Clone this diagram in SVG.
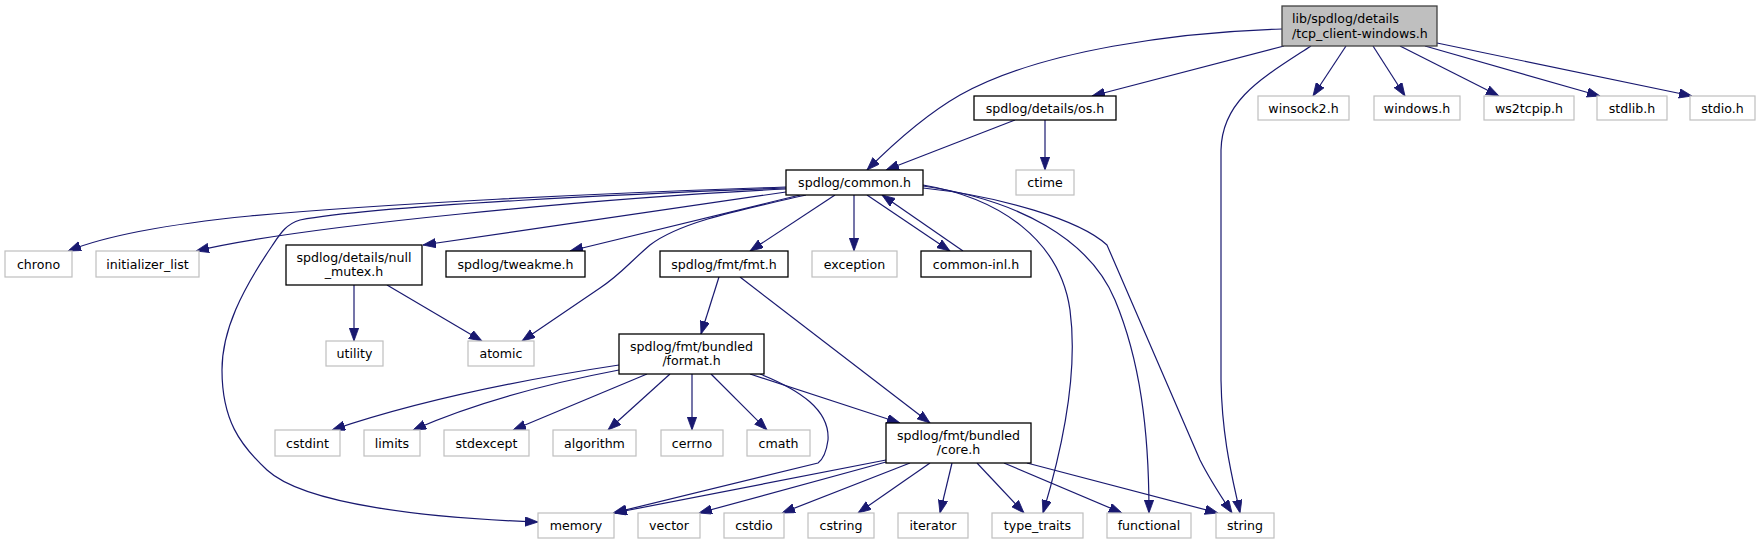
<svg xmlns="http://www.w3.org/2000/svg" width="1761" height="544" viewBox="0 0 1761 544">
<style>
.n rect{fill:#fff;stroke:#000;stroke-width:1.3}
.x rect{fill:#fff;stroke:#bfbfbf;stroke-width:1.2}
.r rect{fill:#bfbfbf;stroke:#404040;stroke-width:1.3}
text{font-family:"DejaVu Sans","Liberation Sans",sans-serif;font-size:12.6px;fill:#000;text-anchor:middle}
.r text{text-anchor:start}
#edges path{fill:none;stroke:#191970;stroke-width:1.2;marker-end:url(#ah)}
</style>
<defs>
<marker id="ah" markerUnits="userSpaceOnUse" markerWidth="14" markerHeight="10" refX="13" refY="4.7" orient="auto">
<path d="M0,0 L13,4.7 L0,9.4 z" fill="#191970" stroke="#191970" stroke-width="0.8"/>
</marker>
</defs>
<rect width="1761" height="544" fill="#fff"/>
<g id="edges">
<path d="M1282,29 C1180,32 1040,50 960,95 C925,115 895,142 867,170"/>
<path d="M1284,46 L1092,96"/>
<path d="M1311,46 C1262,78 1222,100 1221,150 L1221,380 C1222,440 1233,480 1240,513"/>
<path d="M1346,46 L1313,96"/>
<path d="M1373,46 L1405,96"/>
<path d="M1400,46 L1499,96"/>
<path d="M1425,46 L1600,96"/>
<path d="M1437,43 L1692,96"/>
<path d="M1015,120 L886,170"/>
<path d="M1045,120 L1045,170"/>
<path d="M786,187 C600,193 380,204 250,216 C180,223 110,234 68,251"/>
<path d="M786,189 C600,198 300,226 196,251"/>
<path d="M786,188 C650,193 380,205 300,220 C286,224 280,234 272,246 C242,290 222,330 222,370 C222,420 240,445 267,470 C305,505 430,518 538,522"/>
<path d="M786,192 L423,245"/>
<path d="M800,195 L570,251"/>
<path d="M806,195 C740,210 680,222 650,245 C630,262 620,275 600,288 L522,341"/>
<path d="M835,195 L750,251"/>
<path d="M854,195 L854,251"/>
<path d="M867,195 L950,251"/>
<path d="M963,251 L882,195"/>
<path d="M923,185 C1000,198 1060,240 1070,310 C1078,370 1065,440 1043,513"/>
<path d="M923,186 C1020,200 1090,240 1115,300 C1140,360 1149,430 1149,513"/>
<path d="M923,188 C1000,196 1080,220 1107,245 L1200,460 C1210,480 1220,495 1232,513"/>
<path d="M719,277 L701,334"/>
<path d="M740,277 L930,423"/>
<path d="M354,285 L354,341"/>
<path d="M387,285 L482,341"/>
<path d="M619,365 C520,380 420,400 332,430"/>
<path d="M619,370 C540,385 470,405 413,430"/>
<path d="M647,374 L513,430"/>
<path d="M670,374 L608,430"/>
<path d="M692,374 L692,430"/>
<path d="M711,374 L767,430"/>
<path d="M750,374 L900,423"/>
<path d="M760,374 C800,390 830,410 828,440 C826,455 822,460 818,463 L613,513"/>
<path d="M886,460 L614,513"/>
<path d="M886,462 L699,513"/>
<path d="M910,463 L782,513"/>
<path d="M930,463 L858,513"/>
<path d="M952,463 L940,513"/>
<path d="M977,463 L1024,513"/>
<path d="M1004,463 L1122,513"/>
<path d="M1027,463 L1218,513"/>
</g>
<g id="root" class="r"><rect x="1282" y="6" width="155" height="40"/><text x="1292" y="23">lib/spdlog/details</text><text x="1292" y="37.5">/tcp_client-windows.h</text></g>
<g id="winsock2" class="x"><rect x="1258" y="96" width="91" height="24"/><text x="1303.5" y="112.5">winsock2.h</text></g>
<g id="windows" class="x"><rect x="1374" y="96" width="86" height="24"/><text x="1417" y="112.5">windows.h</text></g>
<g id="ws2tcpip" class="x"><rect x="1484" y="96" width="90" height="24"/><text x="1529" y="112.5">ws2tcpip.h</text></g>
<g id="stdlib" class="x"><rect x="1597" y="96" width="70" height="24"/><text x="1632" y="112.5">stdlib.h</text></g>
<g id="stdio" class="x"><rect x="1690" y="96" width="65" height="24"/><text x="1722.5" y="112.5">stdio.h</text></g>
<g id="os" class="n"><rect x="974" y="96" width="142" height="24"/><text x="1045" y="112.5">spdlog/details/os.h</text></g>
<g id="ctime" class="x"><rect x="1016" y="170" width="58" height="25"/><text x="1045" y="187">ctime</text></g>
<g id="common" class="n"><rect x="786" y="170" width="137" height="25"/><text x="854.5" y="187">spdlog/common.h</text></g>
<g id="chrono" class="x"><rect x="5" y="251" width="67" height="26"/><text x="38.5" y="268.5">chrono</text></g>
<g id="initializer_list" class="x"><rect x="96" y="251" width="103" height="26"/><text x="147.5" y="268.5">initializer_list</text></g>
<g id="null_mutex" class="n"><rect x="286" y="245" width="136" height="40"/><text x="354" y="261.5">spdlog/details/null</text><text x="354" y="275.5">_mutex.h</text></g>
<g id="tweakme" class="n"><rect x="446" y="251" width="139" height="26"/><text x="515.5" y="268.5">spdlog/tweakme.h</text></g>
<g id="fmt" class="n"><rect x="660" y="251" width="128" height="26"/><text x="724" y="268.5">spdlog/fmt/fmt.h</text></g>
<g id="exception" class="x"><rect x="812" y="251" width="85" height="26"/><text x="854.5" y="268.5">exception</text></g>
<g id="common_inl" class="n"><rect x="921" y="251" width="110" height="26"/><text x="976" y="268.5">common-inl.h</text></g>
<g id="utility" class="x"><rect x="326" y="341" width="57" height="25"/><text x="354.5" y="358">utility</text></g>
<g id="atomic" class="x"><rect x="468" y="341" width="66" height="25"/><text x="501" y="358">atomic</text></g>
<g id="format" class="n"><rect x="619" y="334" width="145" height="40"/><text x="691.5" y="350.5">spdlog/fmt/bundled</text><text x="691.5" y="364.5">/format.h</text></g>
<g id="cstdint" class="x"><rect x="275" y="430" width="65" height="26"/><text x="307.5" y="447.5">cstdint</text></g>
<g id="limits" class="x"><rect x="364" y="430" width="56" height="26"/><text x="392" y="447.5">limits</text></g>
<g id="stdexcept" class="x"><rect x="444" y="430" width="85" height="26"/><text x="486.5" y="447.5">stdexcept</text></g>
<g id="algorithm" class="x"><rect x="553" y="430" width="83" height="26"/><text x="594.5" y="447.5">algorithm</text></g>
<g id="cerrno" class="x"><rect x="661" y="430" width="62" height="26"/><text x="692" y="447.5">cerrno</text></g>
<g id="cmath" class="x"><rect x="747" y="430" width="63" height="26"/><text x="778.5" y="447.5">cmath</text></g>
<g id="core" class="n"><rect x="886" y="423" width="145" height="40"/><text x="958.5" y="439.5">spdlog/fmt/bundled</text><text x="958.5" y="453.5">/core.h</text></g>
<g id="memory" class="x"><rect x="538" y="513" width="76" height="25"/><text x="576" y="530">memory</text></g>
<g id="vector" class="x"><rect x="638" y="513" width="62" height="25"/><text x="669" y="530">vector</text></g>
<g id="cstdio" class="x"><rect x="724" y="513" width="60" height="25"/><text x="754" y="530">cstdio</text></g>
<g id="cstring" class="x"><rect x="808" y="513" width="66" height="25"/><text x="841" y="530">cstring</text></g>
<g id="iterator" class="x"><rect x="898" y="513" width="70" height="25"/><text x="933" y="530">iterator</text></g>
<g id="type_traits" class="x"><rect x="992" y="513" width="91" height="25"/><text x="1037.5" y="530">type_traits</text></g>
<g id="functional" class="x"><rect x="1107" y="513" width="84" height="25"/><text x="1149" y="530">functional</text></g>
<g id="string" class="x"><rect x="1216" y="513" width="58" height="25"/><text x="1245" y="530">string</text></g>
</svg>
